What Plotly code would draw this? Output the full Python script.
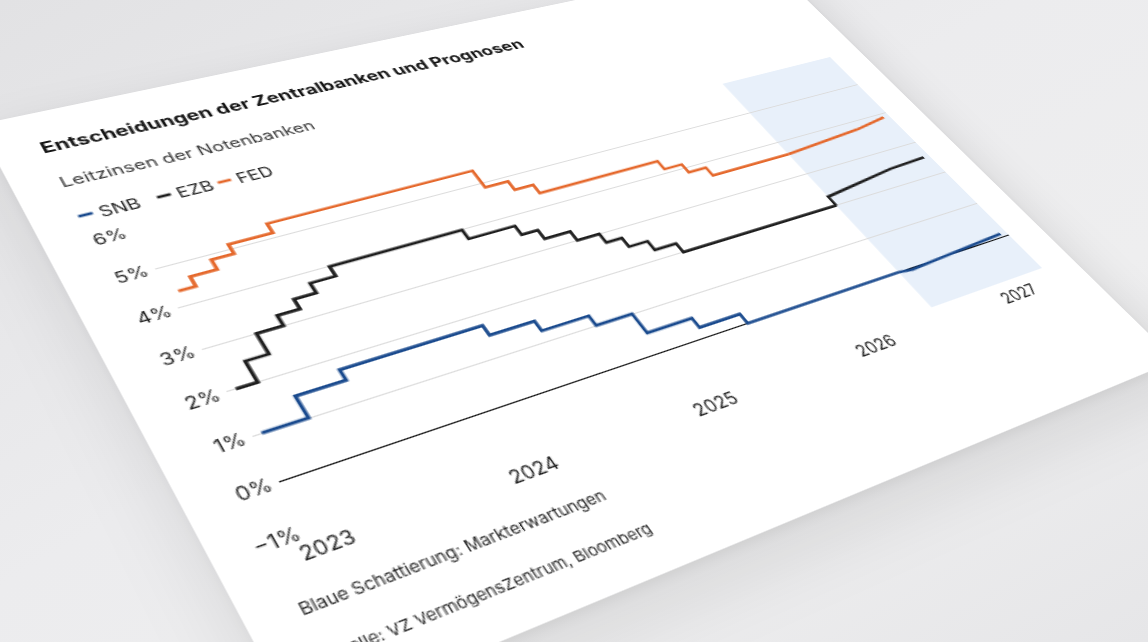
import numpy as np
import plotly.graph_objects as go

# ---------------- data ----------------
snb_dates = ["2023-01-01", "2023-03-23", "2023-06-22", "2024-03-21", "2024-06-20",
             "2024-09-26", "2024-12-12", "2025-03-20", "2025-06-19", "2026-06-19"]
snb_vals = [1.0, 1.5, 1.75, 1.5, 1.25, 1.0, 0.5, 0.25, 0.0, 0.0]
snb_fc_dates = ["2026-06-19", "2026-07-20", "2026-10-01", "2027-01-01", "2027-03-25"]
snb_fc_vals = [0.0, -0.04, 0.0, 0.04, 0.09]

ezb_dates = ["2023-01-01", "2023-02-08", "2023-03-22", "2023-05-10", "2023-06-21",
             "2023-08-02", "2023-09-20", "2024-06-12", "2024-09-18", "2024-10-23",
             "2024-12-18", "2025-02-05", "2025-03-12", "2025-04-23", "2025-06-11",
             "2026-06-19"]
ezb_vals = [2.0, 2.5, 3.0, 3.25, 3.5, 3.75, 4.0, 3.75, 3.5, 3.25, 3.0, 2.75, 2.5,
            2.25, 2.0, 2.0]
ezb_fc_dates = ["2026-06-19", "2026-06-19", "2026-12-20", "2027-03-25"]
ezb_fc_vals = [2.0, 2.27, 2.5, 2.54]

fed_dates = ["2023-01-01", "2023-02-01", "2023-03-22", "2023-05-03", "2023-07-26",
             "2024-09-18", "2024-11-07", "2024-12-18", "2025-09-17", "2025-10-29",
             "2025-12-10", "2026-06-19"]
fed_vals = [4.375, 4.625, 4.875, 5.125, 5.375, 4.875, 4.625, 4.375, 4.125, 3.875,
            3.625, 3.625]
fed_fc_dates = ["2026-06-19", "2026-09-25", "2026-12-31", "2027-03-25"]
fed_fc_vals = [3.625, 3.69, 3.77, 3.9]

shade_start = "2026-06-19"
x_range = ["2022-12-16", "2027-04-09"]
year_ticks = ["2023-01-01", "2024-01-01", "2025-01-01", "2026-01-01", "2027-01-01"]
year_labels = ["2023", "2024", "2025", "2026", "2027"]
y_ticks = [-1, 0, 1, 2, 3, 4, 5, 6]
y_labels = ["\u22121%", "0%", "1%", "2%", "3%", "4%", "5%", "6%"]

names = ["SNB", "EZB", "FED"]
colors = {"SNB": "#1b4b8e", "EZB": "#1f1f1f", "FED": "#e5692d"}

title = "Entscheidungen der Zentralbanken und Prognosen"
subtitle = "Leitzinsen der Notenbanken"
note1 = "Blaue Schattierung: Markterwartungen"
note2 = "Quelle: VZ VermögensZentrum, Bloomberg"

FONT = "Inter, Roboto, 'Open Sans', sans-serif"

# ---------------- card geometry (local pixels) ----------------
W, H = 712, 532
ML, MR, MT, MB = 60, 32, 139, 117
PW, PH = W - ML - MR, H - MT - MB


def pxx(v):
    return v / PW


def pyy(v):
    return v / PH


fig = go.Figure()

series = {
    "SNB": (snb_dates, snb_vals, snb_fc_dates, snb_fc_vals),
    "EZB": (ezb_dates, ezb_vals, ezb_fc_dates, ezb_fc_vals),
    "FED": (fed_dates, fed_vals, fed_fc_dates, fed_fc_vals),
}
for nm in ["FED", "EZB", "SNB"]:
    d, v, fd, fv = series[nm]
    fig.add_trace(go.Scatter(x=d, y=v, mode="lines", line=dict(color=colors[nm], width=2.7, shape="hv"),
                             name=nm, showlegend=False, hoverinfo="skip"))
    fig.add_trace(go.Scatter(x=fd, y=fv, mode="lines", line=dict(color=colors[nm], width=2.7, shape="linear"),
                             name=nm + " Prognose", showlegend=False, hoverinfo="skip"))

shapes = [dict(type="rect", xref="x", yref="paper", x0=shade_start, x1=x_range[1], y0=0, y1=1,
               fillcolor="#e8f0fa", line=dict(width=0), layer="below")]

annotations = [
    dict(text="<b>" + title + "</b>", x=pxx(-30.5), y=pyy(377), xref="paper", yref="paper",
         xanchor="left", yanchor="middle", showarrow=False,
         font=dict(family=FONT, size=16, color="#151515")),
    dict(text=subtitle, x=pxx(-30.5), y=pyy(339), xref="paper", yref="paper",
         xanchor="left", yanchor="middle", showarrow=False,
         font=dict(family=FONT, size=14.5, color="#3a3a3a")),
    dict(text=note1, x=pxx(-30.5), y=pyy(-49.5), xref="paper", yref="paper",
         xanchor="left", yanchor="middle", showarrow=False,
         font=dict(family=FONT, size=11.5, color="#2a2a2a")),
    dict(text=note2, x=pxx(-30.5), y=pyy(-84), xref="paper", yref="paper",
         xanchor="left", yanchor="middle", showarrow=False,
         font=dict(family=FONT, size=11, color="#2a2a2a")),
]

legend_x = {"SNB": -28.5, "EZB": 27.5, "FED": 72.5}
legend_y = 302
for nm in names:
    x0 = legend_x[nm]
    shapes.append(dict(type="line", xref="paper", yref="paper", x0=pxx(x0), x1=pxx(x0 + 10),
                       y0=pyy(legend_y), y1=pyy(legend_y), line=dict(color=colors[nm], width=2.7)))
    annotations.append(dict(text=nm, x=pxx(x0 + 12.5), y=pyy(legend_y), xref="paper", yref="paper",
                            xanchor="left", yanchor="middle", showarrow=False,
                            font=dict(family=FONT, size=14, color="#1f1f1f")))

fig.update_layout(
    width=W, height=H,
    margin=dict(l=ML, r=MR, t=MT, b=MB, pad=0),
    paper_bgcolor="white", plot_bgcolor="white",
    font=dict(family=FONT, size=14, color="#222222"),
    showlegend=False,
    shapes=shapes, annotations=annotations,
    xaxis=dict(type="date", range=x_range, tickvals=year_ticks, ticktext=year_labels,
               showgrid=False, zeroline=False, showline=False, ticks="",
               ticklabelstandoff=5, tickfont=dict(size=14, color="#1f1f1f"), fixedrange=True),
    yaxis=dict(range=[-1.003, 6.003], tickvals=y_ticks, ticktext=y_labels, showgrid=True,
               gridcolor="#dcdcdc", gridwidth=1, zeroline=True, zerolinecolor="#111111",
               zerolinewidth=1.2, showline=False, ticks="", ticklabelstandoff=4,
               tickfont=dict(size=14, color="#1f1f1f"), fixedrange=True),
)

# ---------------- perspective of the photographed card ----------------
src = [(ML, MT), (ML + PW, MT), (ML, MT + PH), (ML + PW, MT + PH)]
dst = [(133, 231), (830, 57), (307, 530), (1042, 268)]
A = []
for (x, y), (u, v) in zip(src, dst):
    A.append([x, y, 1, 0, 0, 0, -u * x, -u * y, -u])
    A.append([0, 0, 0, x, y, 1, -v * x, -v * y, -v])
_, _, Vt = np.linalg.svd(np.array(A, dtype=float))
Hm = Vt[-1].reshape(3, 3)
Hm = Hm / Hm[2, 2]
m3d = "matrix3d({},{},0,{},{},{},0,{},0,0,1,0,{},{},0,{})".format(
    Hm[0, 0], Hm[1, 0], Hm[2, 0], Hm[0, 1], Hm[1, 1], Hm[2, 1], Hm[0, 2], Hm[1, 2], Hm[2, 2])

post = """
var gd = document.getElementById('{plot_id}');
document.documentElement.style.margin = '0';
document.body.style.margin = '0';
document.body.style.width = '1148px';
document.body.style.height = '642px';
document.body.style.overflow = 'hidden';
document.body.style.background = 'linear-gradient(150deg, #e2e2e4 0%, #ececee 45%, #eeeeef 70%, #e6e6e8 100%)';
gd.style.position = 'absolute';
gd.style.left = '0px';
gd.style.top = '0px';
gd.style.transformOrigin = '0 0';
gd.style.transform = 'M3D';
gd.style.boxShadow = '0 18px 50px rgba(0,0,0,0.10), 0 3px 10px rgba(0,0,0,0.06)';
""".replace("M3D", m3d)

fig.write_html("out.html", config={"displayModeBar": False, "staticPlot": True}, post_script=post)
